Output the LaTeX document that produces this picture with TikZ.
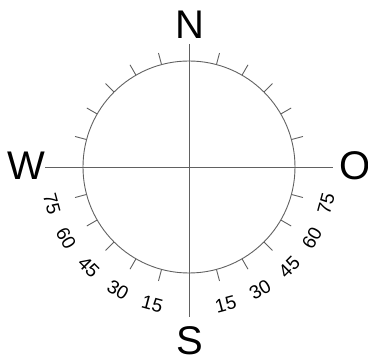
\documentclass[tikz,border=0pt]{standalone}
\usepackage{fontspec}
\setmainfont{Liberation Sans}
\usetikzlibrary{positioning}

\tikzset{
    dial line/.style={draw=black!62, line width=0.9pt},
    cardinal/.style={font=\fontsize{40}{40}\selectfont, inner sep=0pt},
    degree/.style={font=\fontsize{19}{19}\selectfont, inner sep=0pt}
}

\begin{document}
\begin{tikzpicture}[x=1pt, y=1pt]
    \useasboundingbox (-189,-194) rectangle (179,167);

    % Centre and axis ends
    \coordinate (c) at (0,0);
    \coordinate (west) at (-144,0);
    \coordinate (east) at (144,0);
    \coordinate (north) at (0,123);
    \coordinate (south) at (0,-150);

    % Cardinal points
    \node[cardinal] (N) at (1,142) {N};
    \node[cardinal] (S) at (1,-174) {S};
    \node[cardinal] (W) at (-163,1) {W};
    \node[cardinal] (O) at (166,1) {O};

    % Dial and axes
    \draw[dial line] (c) circle (106);
    \draw[dial line] (west) -- (east);
    \draw[dial line] (north) -- (south);

    % Ticks every 15 degrees
    \foreach \q in {0,90,180,270} {
        \foreach \a in {15,30,45,60,75} {
            \draw[dial line] (\q+\a:106) -- (\q+\a:118);
        }
    }

    % Degree labels below the horizon
    \foreach \a in {15,30,45,60,75} {
        \node[degree, rotate=-\a] (left\a) at (-90-\a:142) {\a};
        \node[degree, rotate=\a] (right\a) at (-90+\a:142) {\a};
    }
\end{tikzpicture}
\end{document}
